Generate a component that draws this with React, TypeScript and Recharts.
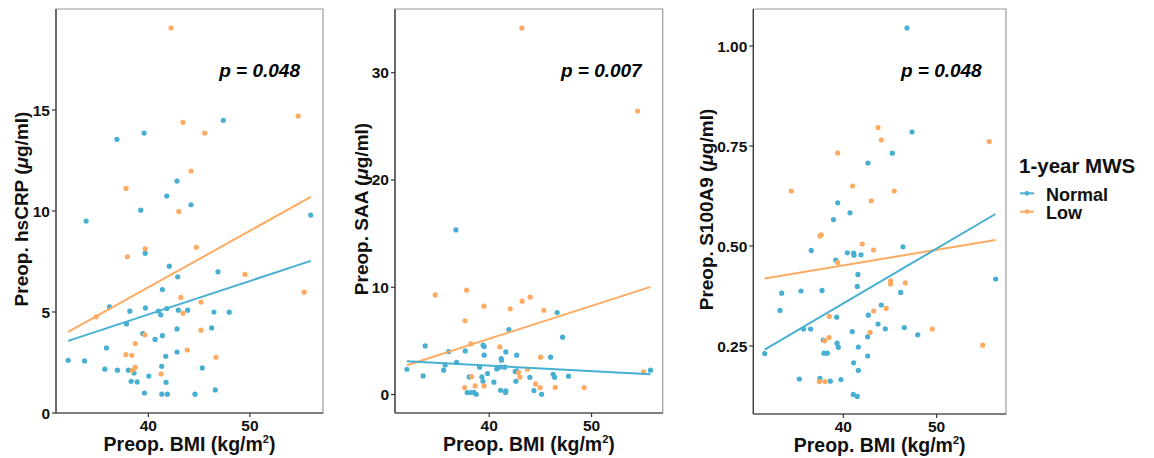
import React from 'react';
import { ScatterChart, Scatter, XAxis, YAxis, ReferenceArea } from 'recharts';

const NORMAL = '#47AFD2';
const LOW = '#FDAB62';
const FONT = '"Liberation Sans", Arial, Helvetica, sans-serif';

// ---- data ----
const bmiTicks = [40, 50];

const crpTicks = [0, 5, 10, 15];
const crpNormal = [[33.87,9.5],[36.9,13.55],[39.58,13.86],[47.38,14.49],[42.82,11.48],[41.81,10.74],[39.25,10.04],[44.2,10.31],[55.99,9.8],[39.68,7.9],[42.06,7.27],[46.85,6.99],[42.89,6.74],[41.38,6.11],[36.17,5.25],[38.17,5.04],[39.71,5.2],[40.98,5.05],[41.22,4.86],[41.81,5.17],[42.95,5.09],[43.87,5.09],[46.46,5.0],[47.96,4.99],[37.84,4.41],[42.82,4.16],[46.23,4.21],[39.45,3.93],[41.38,3.83],[40.66,3.64],[35.87,3.22],[42.82,3.02],[41.71,2.81],[32.1,2.61],[33.71,2.58],[41.31,2.31],[45.31,2.23],[35.71,2.17],[36.95,2.12],[38.03,2.12],[38.59,1.98],[40.04,1.83],[38.3,1.57],[38.89,1.54],[41.74,1.52],[39.61,0.99],[41.32,0.93],[41.87,0.93],[44.59,0.93],[46.59,1.14]];
const crpLow = [[42.23,19.06],[37.8,11.12],[43.41,14.39],[45.55,13.86],[54.75,14.7],[44.2,11.98],[43.0,9.98],[39.68,8.13],[37.94,7.73],[44.72,8.2],[49.51,6.86],[55.34,5.98],[43.19,5.72],[45.18,5.49],[34.86,4.76],[43.41,4.94],[45.18,4.1],[39.65,3.87],[38.7,3.44],[43.83,3.12],[37.78,2.89],[38.37,2.86],[46.66,2.76],[38.7,2.26],[38.43,2.12],[41.25,1.93]];
const crpFitNormal = [[32.1,3.57],[56.0,7.53]];
const crpFitLow = [[32.1,4.01],[56.0,10.7]];

const saaTicks = [0, 10, 20, 30];
const saaNormal = [[36.75,15.35],[46.64,7.65],[41.92,6.06],[47.17,5.35],[33.75,4.53],[39.41,4.6],[39.51,4.48],[36.04,4.01],[37.66,4.07],[41.63,3.97],[39.51,3.67],[42.68,3.67],[41.17,3.36],[41.21,3.2],[46.0,3.48],[36.82,3.01],[35.7,2.76],[31.96,2.36],[35.55,2.27],[39.06,2.55],[40.75,2.39],[41.11,2.57],[41.53,2.55],[42.54,2.15],[42.68,2.2],[33.55,1.74],[39.84,1.96],[38.05,1.64],[39.29,1.64],[39.39,1.24],[43.97,1.61],[46.25,1.89],[46.39,1.61],[47.75,1.71],[40.46,1.15],[42.61,1.24],[55.76,2.27],[41.11,0.4],[41.63,0.34],[44.37,0.37],[41.6,0.19],[37.85,0.19],[38.24,0.19],[38.5,0.21],[38.73,0.03],[45.12,0.03]];
const saaLow = [[43.19,34.16],[54.49,26.43],[34.73,9.29],[37.79,9.73],[39.48,8.24],[43.22,8.7],[44.0,9.08],[42.05,7.99],[45.34,7.86],[37.63,6.87],[38.21,4.72],[41.04,4.44],[45.02,3.48],[43.75,2.36],[42.87,2.05],[38.28,1.68],[43.0,1.61],[55.08,2.11],[37.6,0.65],[39.51,0.8],[44.53,0.99],[44.98,0.65],[46.45,0.68],[49.28,0.65],[38.63,0.8]];
const saaFitNormal = [[31.96,3.1],[55.76,1.89]];
const saaFitLow = [[31.96,2.73],[55.76,10.04]];

const s100Ticks = [0.25, 0.5, 0.75, 1.0];
const s100Normal = [[46.82,1.045],[47.36,0.785],[45.25,0.732],[42.64,0.7075],[39.4,0.608],[40.72,0.583],[38.95,0.566],[36.57,0.489],[46.39,0.498],[40.43,0.483],[41.11,0.4825],[41.15,0.477],[41.9,0.478],[39.19,0.465],[41.57,0.429],[56.32,0.4175],[41.5,0.399],[33.4,0.382],[35.47,0.3875],[37.72,0.389],[46.15,0.384],[44.07,0.3525],[33.22,0.339],[39.29,0.322],[42.68,0.327],[43.72,0.305],[35.75,0.2925],[36.5,0.2925],[44.5,0.293],[46.53,0.296],[40.96,0.286],[47.97,0.278],[42.61,0.273],[37.86,0.265],[39.33,0.257],[39.47,0.247],[41.61,0.2475],[31.58,0.231],[37.93,0.232],[38.29,0.232],[42.61,0.225],[41.11,0.208],[41.61,0.189],[35.29,0.1675],[37.5,0.169],[38.61,0.162],[39.75,0.166],[41.07,0.129],[41.5,0.124]];
const s100Low = [[43.72,0.796],[44.07,0.765],[39.4,0.7325],[55.63,0.761],[34.43,0.6375],[41.0,0.65],[45.46,0.6375],[43.0,0.613],[37.5,0.525],[37.64,0.528],[42.03,0.505],[43.25,0.49],[39.4,0.459],[45.07,0.413],[45.07,0.405],[46.64,0.408],[44.6,0.344],[43.25,0.3375],[38.5,0.324],[49.53,0.2925],[42.86,0.284],[38.47,0.271],[38.0,0.263],[54.93,0.252],[37.43,0.161],[38.04,0.161]];
const s100FitNormal = [[31.58,0.241],[56.3,0.58]];
const s100FitLow = [[31.58,0.419],[56.3,0.515]];

const groups = ['Normal', 'Low'];
const pValues = ['p = 0.048', 'p = 0.007', 'p = 0.048'];
const yTitles = ['hsCRP', 'SAA', 'S100A9'];

const toPts = (a: number[][]) => a.map(([x, y]) => ({ x, y }));

function Dot(props: any) {
  const { cx, cy, fill } = props;
  if (cx == null || cy == null) return <g />;
  return <circle cx={cx} cy={cy} r={2.6} fill={fill} />;
}
const NoShape = () => <g />;

function XTitle(props: any) {
  const vb = props.viewBox || { x: 0, y: 0, width: 0, height: 0 };
  const cx = vb.x + vb.width / 2;
  return (
    <text x={cx} y={vb.y + 37.5} textAnchor="middle" fontFamily={FONT} fontWeight={700} fontSize={19.5} fill="#111">
      Preop. BMI (kg/m<tspan dy={-8} fontSize={11}>2</tspan><tspan dy={8}>)</tspan>
    </text>
  );
}

function YTitle(props: any) {
  const vb = props.viewBox || { x: 0, y: 0, width: 0, height: 0 };
  const x = vb.x + props.offsetX;
  const y = vb.y + vb.height / 2 - 2;
  return (
    <text x={x} y={y} transform={`rotate(-90, ${x}, ${y})`} textAnchor="middle" dominantBaseline="central"
      fontFamily={FONT} fontWeight={700} fontSize={19} fill="#111">
      {`Preop. ${props.name} (`}<tspan fontStyle="italic">μ</tspan>{'g/ml)'}
    </text>
  );
}

function Panel(p: any) {
  const tick = { fill: '#111', fontSize: 15.5, fontWeight: 'bold', fontFamily: FONT };
  return (
    <div style={{ position: 'absolute', left: p.left, top: 0 }}>
      <ScatterChart width={p.width} height={458} margin={{ top: 9, right: p.marginRight, bottom: 0, left: 0 }}>
        <ReferenceArea x1={p.xDomain[0]} x2={p.xDomain[1]} y1={p.yDomain[0]} y2={p.yDomain[1]}
          fill="none" fillOpacity={0} stroke="#9a9a9a" strokeWidth={1.2} ifOverflow="visible" />
        <XAxis type="number" dataKey="x" domain={p.xDomain} ticks={bmiTicks} allowDataOverflow
          height={p.bottom} tickSize={4} tickMargin={3} stroke="#333" strokeWidth={1.2} tick={tick}
          label={<XTitle />} />
        <YAxis type="number" dataKey="y" domain={p.yDomain} ticks={p.yTicks} allowDataOverflow
          width={p.yAxisWidth} tickSize={4} tickMargin={2} stroke="#333" strokeWidth={1.2} tick={tick}
          tickFormatter={p.yFmt} label={<YTitle name={p.name} offsetX={p.yTitleX} />} />
        <Scatter name="Normal" data={toPts(p.normal)} fill={NORMAL} shape={<Dot />} isAnimationActive={false} />
        <Scatter name="Low" data={toPts(p.low)} fill={LOW} shape={<Dot />} isAnimationActive={false} />
        <Scatter data={toPts(p.fitLow)} line={{ stroke: LOW, strokeWidth: 2 }} shape={<NoShape />} isAnimationActive={false} />
        <Scatter data={toPts(p.fitNormal)} line={{ stroke: NORMAL, strokeWidth: 2 }} shape={<NoShape />} isAnimationActive={false} />
      </ScatterChart>
    </div>
  );
}

export default function App() {
  return (
    <div style={{ position: 'absolute', left: 0, top: 0, width: 1154, height: 458, background: '#fff', overflow: 'hidden' }}>
      <Panel left={0} width={330} marginRight={7} bottom={45} yAxisWidth={56} yTitleX={21}
        xDomain={[30.9, 57.2]} yDomain={[0, 20.0]} yTicks={crpTicks} name={yTitles[0]}
        normal={crpNormal} low={crpLow} fitNormal={crpFitNormal} fitLow={crpFitLow} />
      <Panel left={330} width={340} marginRight={7.3} bottom={45} yAxisWidth={65} yTitleX={31}
        xDomain={[30.8, 56.95]} yDomain={[-1.72, 35.94]} yTicks={saaTicks} name={yTitles[1]}
        normal={saaNormal} low={saaLow} fitNormal={saaFitNormal} fitLow={saaFitLow} />
      <Panel left={680} width={330} marginRight={4} bottom={44} yAxisWidth={73.3} yTitleX={26}
        xDomain={[30.36, 57.43]} yDomain={[0.08, 1.0925]} yTicks={s100Ticks} name={yTitles[2]}
        yFmt={(v: number) => v.toFixed(2)}
        normal={s100Normal} low={s100Low} fitNormal={s100FitNormal} fitLow={s100FitLow} />
      <svg width={1154} height={458} style={{ position: 'absolute', left: 0, top: 0, pointerEvents: 'none' }}>
        <g fontFamily={FONT} fontWeight={700} fontStyle="italic" fontSize={19} fill="#000">
          <text x={300} y={77} textAnchor="end">{pValues[0]}</text>
          <text x={641.7} y={77} textAnchor="end">{pValues[1]}</text>
          <text x={981.7} y={77} textAnchor="end">{pValues[2]}</text>
        </g>
        <g fontFamily={FONT} fontWeight={700} fill="#111">
          <text x={1019} y={172.5} fontSize={20.5}>1-year MWS</text>
          {groups.map((g, i) => {
            const cy = i === 0 ? 193.3 : 211.7;
            const c = i === 0 ? NORMAL : LOW;
            return (
              <g key={g}>
                <line x1={1020} x2={1034} y1={cy} y2={cy} stroke={c} strokeWidth={2} />
                <circle cx={1027} cy={cy} r={2.4} fill={c} />
                <text x={1046} y={cy + 7.5} fontSize={18}>{g}</text>
              </g>
            );
          })}
        </g>
      </svg>
    </div>
  );
}
